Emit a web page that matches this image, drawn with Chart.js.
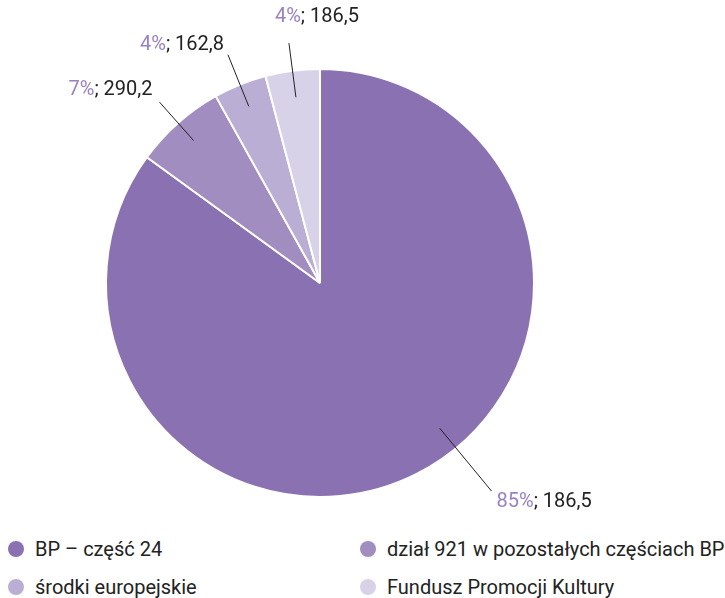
<!DOCTYPE html>
<html>
<head>
<meta charset="utf-8">
<script src="https://cdn.jsdelivr.net/npm/chart.js@4"></script>
<style>
  body { margin: 0; background: #fff; font-family: Roboto, sans-serif; }
  #wrap { position: relative; width: 725px; height: 598px; }
  #legend { position: absolute; left: 0; top: 531px; width: 725px; }
  .item { position: absolute; display: flex; align-items: center; height: 36px; font-size: 20px; color: #222; white-space: nowrap; }
  .dot { width: 16px; height: 16px; border-radius: 50%; margin-right: 11px; }
</style>
</head>
<body>
<div id="wrap">
  <canvas id="chart" width="725" height="530"></canvas>
  <div id="legend"></div>
</div>
<script>
// ---- data -----------------------------------------------------------
const categories = [
  "BP – część 24",
  "dział 921 w pozostałych częściach BP",
  "środki europejskie",
  "Fundusz Promocji Kultury",
];
const shares = [85.0, 6.9, 4.0, 4.1];            // slice size, %
const percentLabels = ["85%", "7%", "4%", "4%"];
const amountLabels = ["186,5", "290,2", "162,8", "186,5"];

const colors = ["#8a72b2", "#a28dc1", "#bbaed5", "#d8d2e9"];

// ---- leader-line labels ----------------------------------------------
// per slice: angle (deg clockwise from top, null = middle), radii as
// fraction of outer radius, text offset from outer end
const labelPos = [
  { angle: 140.5, r1: 0.88, r2: 1.26, dx: 5, dy: 11, align: "left" },
  { angle: null, r1: 0.89, r2: 1.13, dx: -7, dy: -12, align: "right" },
  { angle: null, r1: 0.89, r2: 1.15, dx: -4, dy: -10, align: "right" },
  { angle: null, r1: 0.875, r2: 1.13, dx: -14, dy: -26, align: "left" },
];

const leaderLabels = {
  id: "leaderLabels",
  afterDraw(chart) {
    const ctx = chart.ctx;
    const meta = chart.getDatasetMeta(0);
    ctx.save();
    ctx.font = "20px Roboto, sans-serif";
    ctx.textBaseline = "middle";
    meta.data.forEach((arc, i) => {
      const p = labelPos[i];
      const a = p.angle === null
        ? (arc.startAngle + arc.endAngle) / 2
        : -Math.PI / 2 + (p.angle * Math.PI) / 180;
      const r = arc.outerRadius;
      const x1 = arc.x + Math.cos(a) * r * p.r1;
      const y1 = arc.y + Math.sin(a) * r * p.r1;
      const x2 = arc.x + Math.cos(a) * r * p.r2;
      const y2 = arc.y + Math.sin(a) * r * p.r2;
      ctx.strokeStyle = "#222";
      ctx.lineWidth = 1;
      ctx.beginPath();
      ctx.moveTo(x1, y1);
      ctx.lineTo(x2, y2);
      ctx.stroke();

      const pct = percentLabels[i];
      const rest = "; " + amountLabels[i];
      const wPct = ctx.measureText(pct).width;
      const wRest = ctx.measureText(rest).width;
      let tx = x2 + p.dx;
      if (p.align === "right") tx -= wPct + wRest;
      const ty = y2 + p.dy;
      ctx.textAlign = "left";
      ctx.fillStyle = "#9a80c6";
      ctx.fillText(pct, tx, ty);
      ctx.fillStyle = "#222";
      ctx.fillText(rest, tx + wPct, ty);
    });
    ctx.restore();
  },
};

new Chart(document.getElementById("chart"), {
  type: "pie",
  data: {
    labels: categories,
    datasets: [
      {
        data: shares,
        backgroundColor: colors,
        borderColor: "#fff",
        borderWidth: 2,
      },
    ],
  },
  options: {
    responsive: false,
    animation: false,
    layout: { padding: { left: 105, right: 190, top: 68, bottom: 32 } },
    plugins: { legend: { display: false }, tooltip: { enabled: false } },
  },
  plugins: [leaderLabels],
});

// ---- legend (two columns) ---------------------------------------------
const legend = document.getElementById("legend");
const cols = [8, 360];
const rows = [0, 38];
categories.forEach((name, i) => {
  const el = document.createElement("div");
  el.className = "item";
  el.style.left = cols[i % 2] + "px";
  el.style.top = rows[Math.floor(i / 2)] + "px";
  el.innerHTML = `<span class="dot" style="background:${colors[i]}"></span><span>${name}</span>`;
  legend.appendChild(el);
});
</script>
</body>
</html>
